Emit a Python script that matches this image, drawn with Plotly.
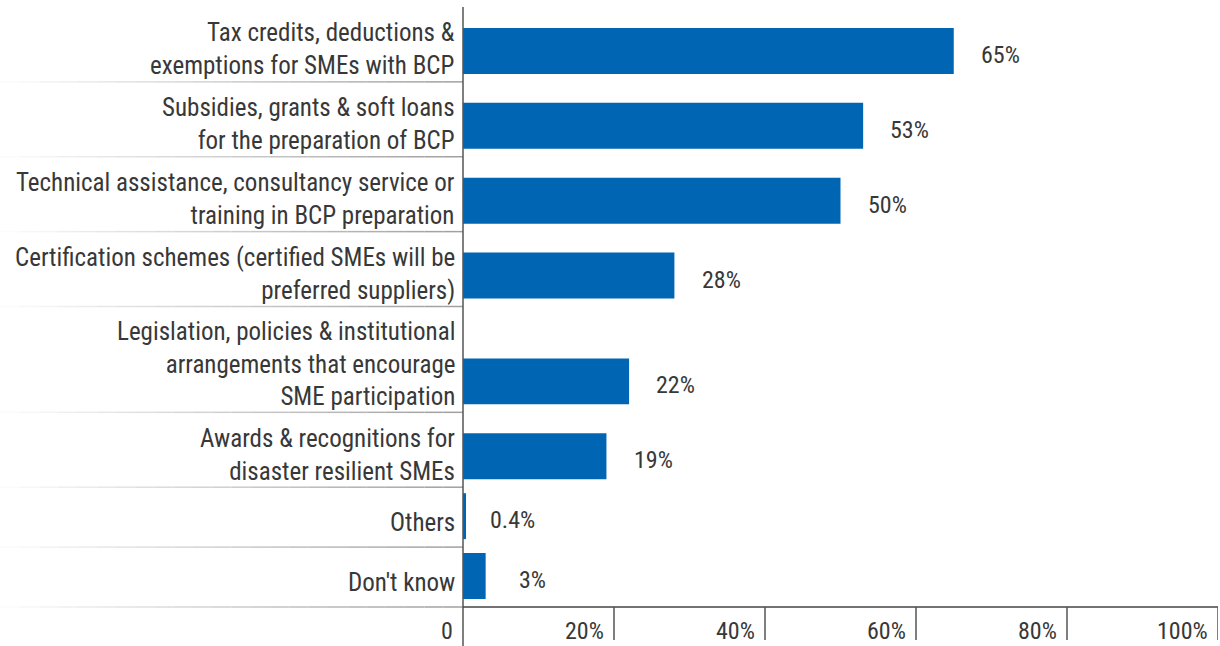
import plotly.graph_objects as go

# Survey responses: preferred incentives for SME business continuity planning
categories = [
    "Tax credits, deductions &<br>exemptions for SMEs with BCP",
    "Subsidies, grants & soft loans<br>for the preparation of BCP",
    "Technical assistance, consultancy service or<br>training in BCP preparation",
    "Certification schemes (certified SMEs will be<br>preferred suppliers)",
    "Legislation, policies & institutional<br>arrangements that encourage<br>SME participation",
    "Awards & recognitions for<br>disaster resilient SMEs",
    "Others",
    "Don't know",
]
values = [65, 53, 50, 28, 22, 19, 0.4, 3]
value_labels = ["65%", "53%", "50%", "28%", "22%", "19%", "0.4%", "3%"]
tick_values = [0, 20, 40, 60, 80, 100]
tick_labels = ["0", "20%", "40%", "60%", "80%", "100%"]

FONT = "Liberation Sans Narrow, Roboto Condensed, Arial Narrow, Lato, sans-serif"
TEXT = "#383838"
BAR = "#0066b3"

W, H = 1220, 646
ML, MR, MT, MB = 463, 2, 7, 39
PW, PH = W - ML - MR, H - MT - MB

# row height grows with the number of label lines
LINE_H = 31
rows = [max(60, LINE_H * (c.count("<br>") + 1) + 13) for c in categories]
total = float(sum(rows))
bottoms = []
acc = 0
for r in rows:
    acc += r
    bottoms.append(acc)
mids = [b - r / 2 for b, r in zip(bottoms, rows)]

BAR_H = 46
BAR_GAP = 8
centers = [b - BAR_GAP - BAR_H / 2 for b in bottoms]

fig = go.Figure(
    go.Bar(
        x=values,
        y=centers,
        orientation="h",
        width=BAR_H,
        marker=dict(color=BAR, line=dict(width=0)),
        hoverinfo="skip",
    )
)


def py(v):
    """row position (px from top of plot) -> paper y"""
    return 1 - v / total


shapes = []
annotations = []

# fading separators under each category label
N_SEG = 24
for b in bottoms:
    for i in range(N_SEG):
        t = (i + 1) / N_SEG
        g = int(255 - (255 - 160) * t)
        shapes.append(dict(
            type="line", xref="paper", yref="paper",
            x0=(-ML + ML * i / N_SEG) / PW, x1=(-ML + ML * (i + 1) / N_SEG) / PW,
            y0=py(b), y1=py(b),
            line=dict(color=f"rgb({g},{g},{g})", width=1.5),
        ))

# category labels, centred in their rows
for c, m in zip(categories, mids):
    annotations.append(dict(
        text=c, xref="paper", yref="paper", x=-6 / PW, y=py(m),
        xanchor="right", yanchor="middle", align="right", showarrow=False,
        yshift=-5, font=dict(family=FONT, size=25, color=TEXT),
    ))

# value labels beside each bar
for v, lab, cy in zip(values, value_labels, centers):
    annotations.append(dict(
        text=lab, x=v + 6.2, xref="x", yref="paper", y=py(cy),
        xanchor="center", yanchor="middle", showarrow=False, yshift=-4,
        font=dict(family=FONT, size=24, color=TEXT),
    ))

# axis lines
shapes.append(dict(type="line", xref="paper", yref="paper", x0=0, x1=0,
                   y0=1, y1=-MB / PH, line=dict(color="#555555", width=1.5)))
shapes.append(dict(type="line", xref="paper", yref="paper", x0=0, x1=1,
                   y0=0, y1=0, line=dict(color="#444444", width=1.5)))

# x ticks with labels to the left of each tick line
for tv, tl in zip(tick_values, tick_labels):
    if tv > 0:
        shapes.append(dict(type="line", xref="x", yref="paper", x0=tv, x1=tv,
                           y0=0, y1=-33 / PH,
                           line=dict(color="#555555", width=1.5)))
    annotations.append(dict(
        text=tl, x=tv, xref="x", yref="paper", y=0, xanchor="right",
        yanchor="top", xshift=-8, yshift=-8, showarrow=False,
        font=dict(family=FONT, size=24, color=TEXT),
    ))

fig.update_layout(
    width=W, height=H,
    margin=dict(l=ML, r=MR, t=MT, b=MB, pad=0),
    paper_bgcolor="white", plot_bgcolor="white",
    showlegend=False,
    xaxis=dict(range=[0, 100], showgrid=False, zeroline=False,
               showticklabels=False, ticks="", showline=False, fixedrange=True),
    yaxis=dict(range=[total, 0], showgrid=False, zeroline=False,
               showticklabels=False, ticks="", showline=False, fixedrange=True),
    shapes=shapes,
    annotations=annotations,
)

fig.write_html("out.html")
